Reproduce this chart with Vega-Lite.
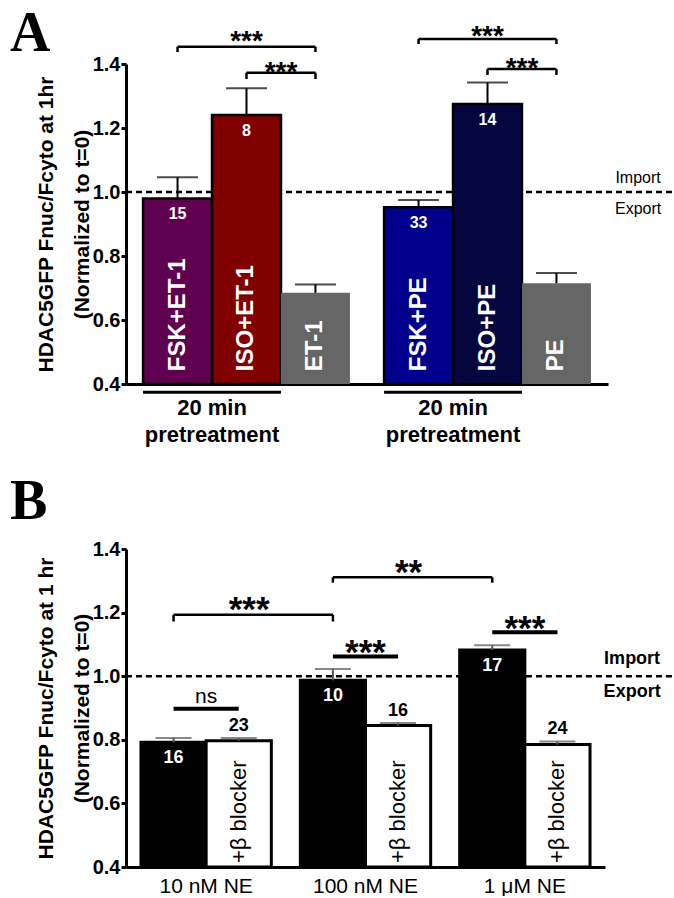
{
  "$schema": "https://vega.github.io/schema/vega-lite/v6.json",
  "padding": {"left": 10, "top": 6, "right": 0, "bottom": 0},
  "background": "white",
  "spacing": 28,
  "resolve": {"scale": {"x": "independent", "y": "independent", "color": "independent", "xOffset": "independent"}, "axis": {"x": "independent", "y": "independent"}},
  "config": {
    "view": {"stroke": null},
    "font": "Liberation Sans",
    "axis": {"grid": false, "domainColor": "black", "tickColor": "black", "labelColor": "black", "titleColor": "black", "labelFont": "Liberation Sans", "titleFont": "Liberation Sans"},
    "title": {"font": "Liberation Serif", "fontSize": 56, "fontWeight": "bold", "anchor": "start", "frame": "group", "dx": -116, "offset": 0, "color": "black"}
  },
  "datasets": {
    "barsA": [
      {"grp": "ET-1 set", "cond": "FSK", "label": "FSK+ET-1", "mean": 0.980, "upper": 1.046, "n": "15"},
      {"grp": "ET-1 set", "cond": "ISO", "label": "ISO+ET-1", "mean": 1.241, "upper": 1.324, "n": "8"},
      {"grp": "ET-1 set", "cond": "agonist", "label": "ET-1", "mean": 0.685, "upper": 0.711, "n": ""},
      {"grp": "PE set", "cond": "FSK", "label": "FSK+PE", "mean": 0.952, "upper": 0.975, "n": "33"},
      {"grp": "PE set", "cond": "ISO", "label": "ISO+PE", "mean": 1.275, "upper": 1.342, "n": "14"},
      {"grp": "PE set", "cond": "agonist", "label": "PE", "mean": 0.715, "upper": 0.747, "n": ""}
    ],
    "sigA": [
      {"g": "ET-1 set", "kind": "outer", "y": 1.454, "ylow": 1.4375, "ys": 1.443, "t": "***"},
      {"g": "ET-1 set", "kind": "inner", "y": 1.373, "ylow": 1.353, "ys": 1.3475, "t": "***"},
      {"g": "PE set", "kind": "outer", "y": 1.478, "ylow": 1.4625, "ys": 1.459, "t": "***"},
      {"g": "PE set", "kind": "inner", "y": 1.384, "ylow": 1.366, "ys": 1.358, "t": "***"}
    ],
    "barsB": [
      {"grp": "10 nM NE", "cond": "NE", "mean": 0.792, "upper": 0.806, "n": "16"},
      {"grp": "10 nM NE", "cond": "+β blocker", "mean": 0.797, "upper": 0.806, "n": "23"},
      {"grp": "100 nM NE", "cond": "NE", "mean": 0.987, "upper": 1.023, "n": "10"},
      {"grp": "100 nM NE", "cond": "+β blocker", "mean": 0.845, "upper": 0.853, "n": "16"},
      {"grp": "1 μM NE", "cond": "NE", "mean": 1.082, "upper": 1.097, "n": "17"},
      {"grp": "1 μM NE", "cond": "+β blocker", "mean": 0.785, "upper": 0.795, "n": "24"}
    ],
    "pairB": [
      {"g": "10 nM NE", "y": 0.898, "ys": 0.916, "t": "ns"},
      {"g": "100 nM NE", "y": 1.062, "ys": 1.037, "t": "***"},
      {"g": "1 μM NE", "y": 1.138, "ys": 1.114, "t": "***"}
    ],
    "bracketB": [
      {"g1": "10 nM NE", "g2": "100 nM NE", "y": 1.193, "ylow": 1.172, "ys": 1.173, "t": "***"},
      {"g1": "100 nM NE", "g2": "1 μM NE", "y": 1.311, "ylow": 1.294, "ys": 1.291, "t": "**"}
    ]
  },
  "vconcat": [
    {
      "width": 482,
      "height": 320,
      "title": {"text": "A", "dy": 44},
      "layer": [
        {
          "data": {"values": [{"g1": "ET-1 set", "g2": "PE set"}]},
          "mark": {"type": "rule", "strokeDash": [6, 4], "strokeWidth": 2.5, "color": "black"},
          "encoding": {
            "x": {"field": "g1", "type": "nominal", "bandPosition": -0.0825},
            "x2": {"field": "g2", "bandPosition": 1.413},
            "y": {"datum": 1, "type": "quantitative"}
          }
        },
        {
          "data": {"name": "barsA"},
          "mark": {"type": "bar", "stroke": "black"},
          "encoding": {
            "x": {"field": "grp", "type": "nominal", "scale": {"domain": ["ET-1 set", "PE set"], "paddingInner": 0.1417, "paddingOuter": 0.0708}, "axis": {"labels": false, "ticks": false, "title": null, "domainWidth": 3}},
            "xOffset": {"field": "cond", "type": "nominal", "scale": {"domain": ["FSK", "ISO", "agonist"], "paddingInner": 0, "paddingOuter": 0}},
            "y": {"field": "mean", "type": "quantitative", "scale": {"domain": [0.4, 1.4], "zero": false, "nice": false},
              "axis": {"values": [0.4, 0.6, 0.8, 1.0, 1.2, 1.4], "format": ".1f", "labelFontSize": 20, "labelFontWeight": "bold", "tickSize": 5, "tickWidth": 3, "domainWidth": 3, "labelPadding": 1,
                "title": ["HDAC5GFP Fnuc/Fcyto at 1hr", "(Normalized to t=0)"], "titleFontSize": 21, "titleFontWeight": "bold", "titleLineHeight": 36, "titlePadding": 0}},
            "y2": {"datum": 0.4},
            "color": {"field": "label", "type": "nominal", "scale": {"domain": ["FSK+ET-1", "ISO+ET-1", "ET-1", "FSK+PE", "ISO+PE", "PE"], "range": ["#600050", "#800000", "#666666", "#00008c", "#050540", "#666666"]}, "legend": null},
            "strokeWidth": {"condition": {"test": "datum.cond === 'agonist'", "value": 0}, "value": 2.5}
          }
        },
        {
          "data": {"name": "barsA"},
          "mark": {"type": "rule", "strokeWidth": 2, "color": "black"},
          "encoding": {
            "x": {"field": "grp", "type": "nominal"},
            "xOffset": {"field": "cond", "type": "nominal"},
            "y": {"field": "mean", "type": "quantitative"},
            "y2": {"field": "upper"}
          }
        },
        {
          "data": {"name": "barsA"},
          "mark": {"type": "tick", "thickness": 2, "size": 41, "color": "black"},
          "encoding": {
            "x": {"field": "grp", "type": "nominal"},
            "xOffset": {"field": "cond", "type": "nominal"},
            "y": {"field": "upper", "type": "quantitative"}
          }
        },
        {
          "data": {"name": "barsA"},
          "transform": [{"filter": "datum.n !== ''"}],
          "mark": {"type": "text", "color": "white", "fontWeight": "bold", "fontSize": 16, "baseline": "middle", "dy": 16},
          "encoding": {
            "x": {"field": "grp", "type": "nominal"},
            "xOffset": {"field": "cond", "type": "nominal"},
            "y": {"field": "mean", "type": "quantitative"},
            "text": {"field": "n"}
          }
        },
        {
          "data": {"name": "barsA"},
          "mark": {"type": "text", "color": "white", "fontWeight": "bold", "fontSize": 24, "angle": 270, "align": "left", "baseline": "middle"},
          "encoding": {
            "x": {"field": "grp", "type": "nominal"},
            "xOffset": {"field": "cond", "type": "nominal"},
            "y": {"datum": 0.44, "type": "quantitative"},
            "text": {"field": "label"}
          }
        },
        {
          "data": {"values": [{"g": "ET-1 set"}, {"g": "PE set"}]},
          "mark": {"type": "rule", "strokeWidth": 3, "color": "black"},
          "encoding": {
            "x": {"field": "g", "type": "nominal", "bandPosition": 0},
            "x2": {"field": "g", "bandPosition": 0.6667},
            "y": {"datum": 0.374, "type": "quantitative"}
          }
        },
        {
          "data": {"values": [{"g": "ET-1 set"}, {"g": "PE set"}]},
          "mark": {"type": "text", "fontWeight": "bold", "fontSize": 22, "color": "black", "baseline": "alphabetic", "text": "20 min"},
          "encoding": {
            "x": {"field": "g", "type": "nominal", "bandPosition": 0.3333},
            "y": {"datum": 0.303, "type": "quantitative"}
          }
        },
        {
          "data": {"values": [{"g": "ET-1 set"}, {"g": "PE set"}]},
          "mark": {"type": "text", "fontWeight": "bold", "fontSize": 22, "color": "black", "baseline": "alphabetic", "text": "pretreatment"},
          "encoding": {
            "x": {"field": "g", "type": "nominal", "bandPosition": 0.3333},
            "y": {"datum": 0.2197, "type": "quantitative"}
          }
        },
        {
          "data": {"values": [{"g": "PE set"}]},
          "mark": {"type": "text", "fontSize": 16, "color": "black", "baseline": "middle", "dy": -14, "text": "Import"},
          "encoding": {
            "x": {"field": "g", "type": "nominal", "bandPosition": 1.228},
            "y": {"datum": 1, "type": "quantitative"}
          }
        },
        {
          "data": {"values": [{"g": "PE set"}]},
          "mark": {"type": "text", "fontSize": 16, "color": "black", "baseline": "middle", "dy": 17, "text": "Export"},
          "encoding": {
            "x": {"field": "g", "type": "nominal", "bandPosition": 1.228},
            "y": {"datum": 1, "type": "quantitative"}
          }
        },
        {
          "data": {"name": "sigA"},
          "transform": [{"filter": "datum.kind === 'outer'"}],
          "mark": {"type": "rule", "strokeWidth": 2.5, "color": "black"},
          "encoding": {
            "x": {"field": "g", "type": "nominal", "bandPosition": 0.1667},
            "x2": {"field": "g", "bandPosition": 0.8333},
            "y": {"field": "y", "type": "quantitative"}
          }
        },
        {
          "data": {"name": "sigA"},
          "transform": [{"filter": "datum.kind === 'inner'"}],
          "mark": {"type": "rule", "strokeWidth": 2.5, "color": "black"},
          "encoding": {
            "x": {"field": "g", "type": "nominal", "bandPosition": 0.5},
            "x2": {"field": "g", "bandPosition": 0.8333},
            "y": {"field": "y", "type": "quantitative"}
          }
        },
        {
          "data": {"name": "sigA"},
          "transform": [{"filter": "datum.kind === 'outer'"}],
          "mark": {"type": "rule", "strokeWidth": 2.5, "color": "black"},
          "encoding": {
            "x": {"field": "g", "type": "nominal", "bandPosition": 0.1667},
            "y": {"field": "y", "type": "quantitative"},
            "y2": {"field": "ylow"}
          }
        },
        {
          "data": {"name": "sigA"},
          "transform": [{"filter": "datum.kind === 'inner'"}],
          "mark": {"type": "rule", "strokeWidth": 2.5, "color": "black"},
          "encoding": {
            "x": {"field": "g", "type": "nominal", "bandPosition": 0.5},
            "y": {"field": "y", "type": "quantitative"},
            "y2": {"field": "ylow"}
          }
        },
        {
          "data": {"name": "sigA"},
          "mark": {"type": "rule", "strokeWidth": 2.5, "color": "black"},
          "encoding": {
            "x": {"field": "g", "type": "nominal", "bandPosition": 0.8333},
            "y": {"field": "y", "type": "quantitative"},
            "y2": {"field": "ylow"}
          }
        },
        {
          "data": {"name": "sigA"},
          "transform": [{"filter": "datum.kind === 'outer'"}],
          "mark": {"type": "text", "fontSize": 28, "fontWeight": "bold", "color": "black", "baseline": "alphabetic"},
          "encoding": {
            "x": {"field": "g", "type": "nominal", "bandPosition": 0.5},
            "y": {"field": "ys", "type": "quantitative"},
            "text": {"field": "t"}
          }
        },
        {
          "data": {"name": "sigA"},
          "transform": [{"filter": "datum.kind === 'inner'"}],
          "mark": {"type": "text", "fontSize": 28, "fontWeight": "bold", "color": "black", "baseline": "alphabetic"},
          "encoding": {
            "x": {"field": "g", "type": "nominal", "bandPosition": 0.6667},
            "y": {"field": "ys", "type": "quantitative"},
            "text": {"field": "t"}
          }
        }
      ]
    },
    {
      "width": 479,
      "height": 318,
      "title": {"text": "B", "dy": -4},
      "layer": [
        {
          "data": {"values": [{"g1": "10 nM NE", "g2": "1 μM NE"}]},
          "mark": {"type": "rule", "strokeDash": [6, 4], "strokeWidth": 2.5, "color": "black"},
          "encoding": {
            "x": {"field": "g1", "type": "nominal", "bandPosition": -0.1154},
            "x2": {"field": "g2", "bandPosition": 1.654},
            "y": {"datum": 1, "type": "quantitative"}
          }
        },
        {
          "data": {"name": "barsB"},
          "mark": {"type": "bar", "stroke": "black", "strokeWidth": 3},
          "encoding": {
            "x": {"field": "grp", "type": "nominal", "scale": {"domain": ["10 nM NE", "100 nM NE", "1 μM NE"], "paddingInner": 0.182, "paddingOuter": 0.094},
              "axis": {"ticks": false, "tickSize": 0, "title": null, "domainWidth": 3, "labelFontSize": 21, "labelFontWeight": "normal", "labelPadding": 8, "labelAngle": 0, "bandPosition": 0.5, "labelAlign": "center", "labelBaseline": "top"}},
            "xOffset": {"field": "cond", "type": "nominal", "scale": {"domain": ["NE", "+β blocker"], "paddingInner": 0, "paddingOuter": 0}},
            "y": {"field": "mean", "type": "quantitative", "scale": {"domain": [0.4, 1.4], "zero": false, "nice": false},
              "axis": {"values": [0.4, 0.6, 0.8, 1.0, 1.2, 1.4], "format": ".1f", "labelFontSize": 20, "labelFontWeight": "bold", "tickSize": 5, "tickWidth": 3, "domainWidth": 3, "labelPadding": 1,
                "title": ["HDAC5GFP Fnuc/Fcyto at 1 hr", "(Normalized to t=0)"], "titleFontSize": 21, "titleFontWeight": "bold", "titleLineHeight": 36, "titlePadding": 0}},
            "y2": {"datum": 0.4},
            "color": {"field": "cond", "type": "nominal", "scale": {"domain": ["NE", "+β blocker"], "range": ["black", "white"]}, "legend": null}
          }
        },
        {
          "data": {"name": "barsB"},
          "mark": {"type": "rule", "strokeWidth": 2, "color": "#555555"},
          "encoding": {
            "x": {"field": "grp", "type": "nominal"},
            "xOffset": {"field": "cond", "type": "nominal"},
            "y": {"field": "mean", "type": "quantitative"},
            "y2": {"field": "upper"}
          }
        },
        {
          "data": {"name": "barsB"},
          "mark": {"type": "tick", "thickness": 2, "size": 36, "color": "#555555"},
          "encoding": {
            "x": {"field": "grp", "type": "nominal"},
            "xOffset": {"field": "cond", "type": "nominal"},
            "y": {"field": "upper", "type": "quantitative"}
          }
        },
        {
          "data": {"name": "barsB"},
          "transform": [{"filter": "datum.cond === 'NE'"}],
          "mark": {"type": "text", "color": "white", "fontWeight": "bold", "fontSize": 18, "baseline": "middle", "dy": 16},
          "encoding": {
            "x": {"field": "grp", "type": "nominal"},
            "xOffset": {"field": "cond", "type": "nominal"},
            "y": {"field": "mean", "type": "quantitative"},
            "text": {"field": "n"}
          }
        },
        {
          "data": {"name": "barsB"},
          "transform": [{"filter": "datum.cond !== 'NE'"}],
          "mark": {"type": "text", "color": "black", "fontWeight": "bold", "fontSize": 18, "baseline": "middle", "dy": -12},
          "encoding": {
            "x": {"field": "grp", "type": "nominal"},
            "xOffset": {"field": "cond", "type": "nominal"},
            "y": {"field": "upper", "type": "quantitative"},
            "text": {"field": "n"}
          }
        },
        {
          "data": {"name": "barsB"},
          "transform": [{"filter": "datum.cond !== 'NE'"}],
          "mark": {"type": "text", "color": "black", "fontSize": 22, "angle": 270, "align": "left", "baseline": "middle"},
          "encoding": {
            "x": {"field": "grp", "type": "nominal"},
            "xOffset": {"field": "cond", "type": "nominal"},
            "y": {"datum": 0.4126, "type": "quantitative"},
            "text": {"field": "cond"}
          }
        },
        {
          "data": {"values": [{"g": "1 μM NE"}]},
          "mark": {"type": "text", "fontSize": 18, "fontWeight": "bold", "color": "black", "baseline": "middle", "dy": -17.7, "text": "Import"},
          "encoding": {
            "x": {"field": "g", "type": "nominal", "bandPosition": 1.323},
            "y": {"datum": 1, "type": "quantitative"}
          }
        },
        {
          "data": {"values": [{"g": "1 μM NE"}]},
          "mark": {"type": "text", "fontSize": 18, "fontWeight": "bold", "color": "black", "baseline": "middle", "dy": 15.5, "text": "Export"},
          "encoding": {
            "x": {"field": "g", "type": "nominal", "bandPosition": 1.323},
            "y": {"datum": 1, "type": "quantitative"}
          }
        },
        {
          "data": {"name": "pairB"},
          "mark": {"type": "rule", "strokeWidth": 4, "color": "black"},
          "encoding": {
            "x": {"field": "g", "type": "nominal", "bandPosition": 0.25},
            "x2": {"field": "g", "bandPosition": 0.75},
            "y": {"field": "y", "type": "quantitative"}
          }
        },
        {
          "data": {"name": "pairB"},
          "transform": [{"filter": "datum.t === 'ns'"}],
          "mark": {"type": "text", "fontSize": 21, "color": "black", "baseline": "alphabetic"},
          "encoding": {
            "x": {"field": "g", "type": "nominal", "bandPosition": 0.5},
            "y": {"field": "ys", "type": "quantitative"},
            "text": {"field": "t"}
          }
        },
        {
          "data": {"name": "pairB"},
          "transform": [{"filter": "datum.t !== 'ns'"}],
          "mark": {"type": "text", "fontSize": 35, "fontWeight": "bold", "color": "black", "baseline": "alphabetic"},
          "encoding": {
            "x": {"field": "g", "type": "nominal", "bandPosition": 0.5},
            "y": {"field": "ys", "type": "quantitative"},
            "text": {"field": "t"}
          }
        },
        {
          "data": {"name": "bracketB"},
          "mark": {"type": "rule", "strokeWidth": 2.5, "color": "black"},
          "encoding": {
            "x": {"field": "g1", "type": "nominal", "bandPosition": 0.25},
            "x2": {"field": "g2", "bandPosition": 0.25},
            "y": {"field": "y", "type": "quantitative"}
          }
        },
        {
          "data": {"name": "bracketB"},
          "mark": {"type": "rule", "strokeWidth": 2.5, "color": "black"},
          "encoding": {
            "x": {"field": "g1", "type": "nominal", "bandPosition": 0.25},
            "y": {"field": "y", "type": "quantitative"},
            "y2": {"field": "ylow"}
          }
        },
        {
          "data": {"name": "bracketB"},
          "mark": {"type": "rule", "strokeWidth": 2.5, "color": "black"},
          "encoding": {
            "x": {"field": "g2", "type": "nominal", "bandPosition": 0.25},
            "y": {"field": "y", "type": "quantitative"},
            "y2": {"field": "ylow"}
          }
        },
        {
          "data": {"name": "bracketB"},
          "mark": {"type": "text", "fontSize": 35, "fontWeight": "bold", "color": "black", "baseline": "alphabetic"},
          "encoding": {
            "x": {"field": "g1", "type": "nominal", "bandPosition": 0.83},
            "y": {"field": "ys", "type": "quantitative"},
            "text": {"field": "t"}
          }
        }
      ]
    }
  ]
}
